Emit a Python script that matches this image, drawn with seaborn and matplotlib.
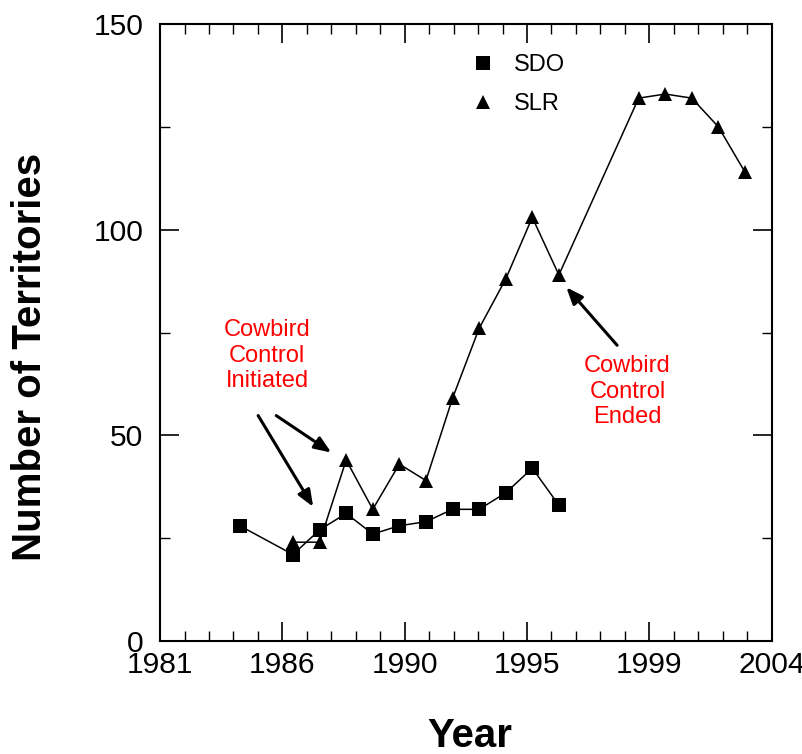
import numpy as np
import pandas as pd
import matplotlib
matplotlib.use('Agg')
import matplotlib.pyplot as plt
from matplotlib.lines import Line2D
import seaborn as sns

# territory counts
sdo_years = [1984, 1986, 1987, 1988, 1989, 1990, 1991, 1992, 1993, 1994, 1995, 1996]
sdo_counts = [28, 21, 27, 31, 26, 28, 29, 32, 32, 36, 42, 33]
slr_years = [1986, 1987, 1988, 1989, 1990, 1991, 1992, 1993, 1994, 1995, 1996,
             1999, 2000, 2001, 2002, 2003]
slr_counts = [24, 24, 44, 32, 43, 39, 59, 76, 88, 103, 89, 132, 133, 132, 125, 114]
xtick_labels = ['1981', '1986', '1990', '1995', '1999', '2004']

sdo = pd.DataFrame({'Year': sdo_years, 'Territories': sdo_counts})
slr = pd.DataFrame({'Year': slr_years, 'Territories': slr_counts})

sns.set_style("ticks")
plt.rcParams['font.family'] = ['Liberation Sans', 'DejaVu Sans']
plt.rcParams['text.color'] = 'black'
plt.rcParams['axes.labelcolor'] = 'black'
plt.rcParams['xtick.color'] = 'black'
plt.rcParams['ytick.color'] = 'black'

fig = plt.figure(figsize=(8.03, 7.54), dpi=100)
ax = fig.add_axes([0.1993, 0.150, 0.7616, 0.818])

sns.lineplot(data=sdo, x='Year', y='Territories', ax=ax, color='black', lw=1.1,
             marker='s', markersize=10, markeredgewidth=0)
sns.lineplot(data=slr, x='Year', y='Territories', ax=ax, color='black', lw=1.1,
             marker='^', markersize=10, markeredgewidth=0)

ax.set_xlim(1981, 2004)
ax.set_ylim(0, 150)
ax.set_xticks(np.linspace(1981, 2004, 6))
ax.set_xticklabels(xtick_labels)
ax.set_xticks(np.linspace(1981, 2004, 26), minor=True)
ax.set_yticks([0, 50, 100, 150])
ax.set_yticks([25, 75, 125], minor=True)

ax.tick_params(which='both', direction='in', top=True, right=True,
               color='black', labelcolor='black')
ax.tick_params(which='major', length=13.7, width=1.2, labelsize=21.6)
ax.tick_params(axis='x', which='major', pad=7)
ax.tick_params(axis='y', which='major', pad=12)
ax.tick_params(which='minor', length=7, width=1.0)
for sp in ax.spines.values():
    sp.set_visible(True)
    sp.set_linewidth(1.5)
    sp.set_color('black')

ax.set_xlabel('Year', fontsize=29, fontweight='bold')
ax.set_ylabel('Number of Territories', fontsize=29, fontweight='bold')
ax.xaxis.set_label_coords(0.507, -0.123)
ax.yaxis.set_label_coords(-0.182, 0.46)

# legend with markers only
handles = [Line2D([], [], color='black', marker='s', linestyle='none', markersize=10, markeredgewidth=0),
           Line2D([], [], color='black', marker='^', linestyle='none', markersize=10, markeredgewidth=0)]
ax.legend(handles, ['SDO', 'SLR'], loc='upper left', bbox_to_anchor=(0.509, 0.951),
          frameon=False, fontsize=17, handlelength=1, handletextpad=0.8,
          labelspacing=0.7, borderpad=0, borderaxespad=0)

# annotations
arrow = dict(arrowstyle='-|>,head_length=0.5,head_width=0.2', color='black', lw=2.2,
             mutation_scale=20, shrinkA=0, shrinkB=0)
ax.text(1985.03, 69.4, 'Cowbird\nControl\nInitiated', color='red', fontsize=17,
        ha='center', va='center', multialignment='center')
ax.annotate('', xy=(1987.44, 45.8), xytext=(1985.37, 54.8), arrowprops=arrow)
ax.annotate('', xy=(1986.76, 32.6), xytext=(1984.69, 54.8), arrowprops=arrow)
ax.text(1998.58, 60.6, 'Cowbird\nControl\nEnded', color='red', fontsize=17,
        ha='center', va='center', multialignment='center')
ax.annotate('', xy=(1996.28, 86.0), xytext=(1998.19, 71.9), arrowprops=arrow)

plt.savefig('out.png', dpi=100)
